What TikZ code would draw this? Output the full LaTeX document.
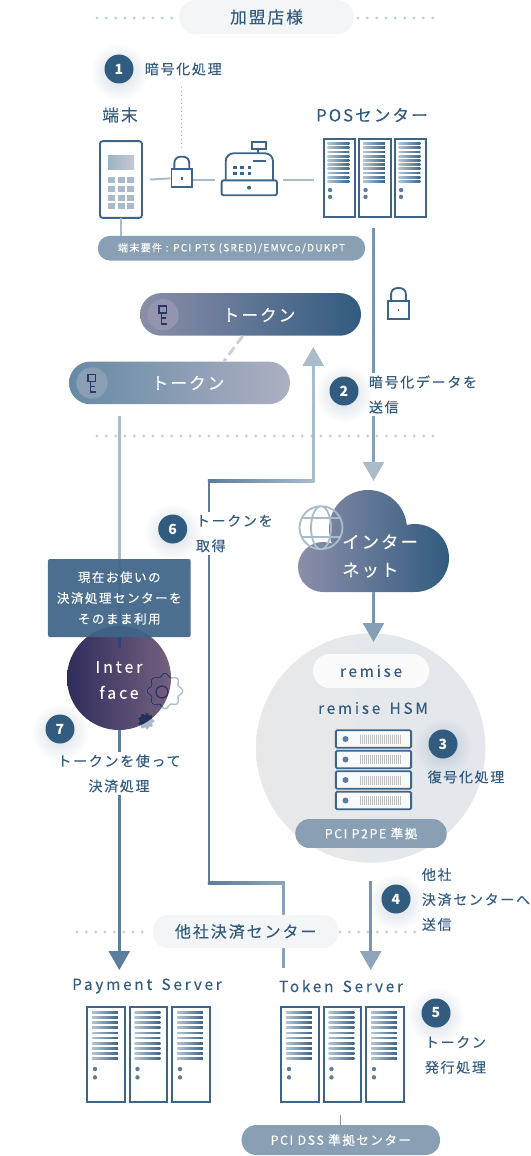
\documentclass[tikz,border=0pt]{standalone}
\usepackage{fontspec}
\usepackage{tikz}
\usetikzlibrary{arrows.meta, positioning, backgrounds, fadings, calc}
\setmainfont{Noto Sans CJK JP}
\newfontfamily\jpwide[LetterSpace=12, FakeBold=0.12]{Noto Sans CJK JP}
\newfontfamily\enwide[LetterSpace=18, FakeBold=0.12, WordSpace=1.5]{Noto Sans CJK JP}
\definecolor{stepblue}{RGB}{50,91,128}
\definecolor{rackblue}{RGB}{62,100,136}
\definecolor{paleline}{RGB}{169,188,203}
\definecolor{midline}{RGB}{120,150,175}
\definecolor{darkline}{RGB}{92,125,155}
\definecolor{tagblue}{RGB}{137,160,180}
\definecolor{dotgray}{RGB}{197,208,218}
\definecolor{pillgray}{RGB}{244,245,246}
\definecolor{tokenmauve}{RGB}{139,142,168}
\definecolor{tokenpale}{RGB}{173,175,194}
\definecolor{tokensteel}{RGB}{103,138,166}
\definecolor{keynavy}{RGB}{42,55,102}
\definecolor{faceleft}{RGB}{46,45,92}
\definecolor{faceright}{RGB}{117,96,127}
\tikzfading[name=softglow, inner color=transparent!78, outer color=transparent!100]
\tikzset{
  areapill/.style={rectangle, rounded corners=12.5pt, fill=pillgray, text=stepblue, inner sep=0pt,
    font=\jpwide\fontsize{12.5}{15}\selectfont},
  tagpill/.style={rectangle, fill=tagblue, text=white, inner sep=0pt},
  tokenpill/.style={rectangle, rounded corners=16pt, minimum width=165.75pt, minimum height=32pt, inner sep=0pt},
  tokentext/.style={text=white, font=\jpwide\fontsize{12.5}{15}\selectfont},
  steplabel/.style={text=stepblue, align=left, inner sep=2pt, font=\jpwide\fontsize{10.5}{18.75}\selectfont},
  titlelabel/.style={text=stepblue, font=\jpwide\fontsize{12.5}{15}\selectfont},
  enlabel/.style={text=stepblue, font=\enwide\fontsize{11.5}{15}\selectfont},
  stepbadge/.style={circle, fill=stepblue, text=white, minimum size=21.75pt, inner sep=0pt,
    font=\bfseries\fontsize{10.5}{12}\selectfont},
  rackbox/.style={rectangle, draw=rackblue, line width=1.5pt, inner sep=0pt, anchor=north west, fill=white},
  iconline/.style={draw=rackblue, line width=1.4pt},
  dotline/.style={draw=dotgray, line width=2.4pt, line cap=round, dash pattern=on 0pt off 7pt},
  linkline/.style={draw=paleline, line width=1.5pt},
  routeline/.style={line width=1.9pt},
}
% one rack: name, x, y, w, h
\newcommand{\rackunit}[5]{
  \node[rackbox, minimum width=#4*0.75pt, minimum height=#5*0.75pt] (#1) at (#2,#3) {};
  \foreach \k in {0,...,9}
    \shade[left color=midline!55!white, right color=rackblue]
      ({#2+0.16*#4},{#3+0.06*#5+0.054*\k*#5}) rectangle ({#2+0.85*#4},{#3+0.06*#5+0.054*\k*#5+1.7});
  \fill[darkline] ({#2+0.24*#4},{#3+0.667*#5}) circle (2.2) ({#2+0.24*#4},{#3+0.755*#5}) circle (2.2);
}
\newcommand{\padlock}[3]{
  \node[rectangle, iconline, minimum width=15.5pt, minimum height=13.5pt, inner sep=0pt] (#1) at (#2,#3) {};
  \draw[iconline, rounded corners=4.5pt] ({#2-7.4},{#3-9.2}) -- ({#2-7.4},{#3-21.7}) -- ({#2+7.4},{#3-21.7}) -- ({#2+7.4},{#3-9.2});
  \draw[iconline] (#2,{#3-1.2}) -- (#2,{#3+1.4});
}
\newcommand{\tokenkey}[2]{
  \draw[keynavy, line width=1.2pt] ({#1-4},{#2-8.5}) rectangle ({#1+3.5},{#2-1.5});
  \draw[keynavy, line width=1.2pt] ({#1-1.5},{#2-1.5}) -- ({#1-1.5},{#2+9}) -- ({#1+4},{#2+9});
  \draw[keynavy, line width=1.2pt] ({#1-1.5},{#2+3.5}) -- ({#1+3},{#2+3.5});
}
\newcommand{\stepglow}[2]{
  \fill[stepblue, path fading=softglow] (#1,{#2+3}) circle (29);
}
\begin{document}
\begin{tikzpicture}[x=0.75pt, y=-0.75pt]
  \useasboundingbox (0,0) rectangle (531,1156);

  % merchant row
  \coordinate (dota) at (97,18);
  \coordinate (dotb) at (175,18);
  \coordinate (dotc) at (358,18);
  \coordinate (dotd) at (438,18);
  \draw[dotline] (dota) -- (dotb);
  \draw[dotline] (dotc) -- (dotd);
  \node[areapill, minimum width=131pt, minimum height=25.5pt] (merchant) at (266.5,17) {加盟店様};

  \stepglow{119}{69}
  \node[stepbadge] (stepone) at (119,69) {1};
  \node[steplabel, anchor=west] (stepone text) at (142,69) {暗号化処理};
  \node[titlelabel] (terminal title) at (120,115) {端末};
  \node[titlelabel] (pos title) at (372,115) {POSセンター};

  % terminal
  \node[rectangle, rounded corners=2pt, iconline, minimum width=31.5pt, minimum height=57.5pt, inner sep=0pt] (terminal) at (121,179.5) {};
  \shade[left color=paleline!90!rackblue, right color=tokenpale!70] (108,155) rectangle (134,169);
  \foreach \r/\ry in {0/177,1/186,2/195,3/203}
    \foreach \c/\cx in {0/108,1/117.5,2/127}
      \fill[paleline!85!tokenpale] (\cx,\ry) rectangle ({\cx+7},{\ry+5.5});

  \padlock{lockone}{181.8}{178.4}
  \coordinate (lockdots) at (181.5,87);
  \draw[draw=paleline, line width=1pt, dotted] (lockdots) -- (181.5,148);

  % cash register
  \node[minimum width=51pt, minimum height=10pt, inner sep=0pt] (register) at (249,179.5) {};
  \node[rectangle, rounded corners=1.5pt, iconline, minimum width=41.5pt, minimum height=11.2pt, inner sep=0pt] (drawer) at (249.3,187.8) {};
  \draw[iconline, rounded corners=6pt] (225.7,180.3) -- (225.7,153.3) -- (273,153.3) -- (273,180.3);
  \draw[iconline] (251.7,142) rectangle (266,148.7);
  \draw[iconline] (258,148.7) -- (258,153.3);
  \draw[iconline] (252.7,160.7) -- (266,160.7);
  \foreach \cx in {235,242,249.7}
    \foreach \ry in {167.3,173.3}
      \fill[rackblue] ({\cx-1.7},{\ry-1.7}) rectangle ({\cx+1.7},{\ry+1.7});
  \fill[rackblue] (249,187.7) circle (2);

  % pos racks
  \rackunit{posa}{322.5}{138}{31.5}{78}
  \rackunit{posb}{358}{138}{31.5}{78}
  \rackunit{posc}{393.5}{138}{31.5}{78}

  \draw[linkline] (terminal.east) ++(7,0) -- (lockone.west);
  \draw[linkline] (lockone.east |- terminal.east) -- (register.west);
  \draw[linkline] (register.east) -- ($(register.east -| posa.west)+(-9,0)$);
  \draw[linkline] (121,218) -- (121,236);

  \node[tagpill, rounded corners=9pt, minimum width=200.5pt, minimum height=18.5pt, text=white,
    font=\jpwide\fontsize{7.6}{10}\selectfont] (terminal spec) at (231.5,248.2) {端末要件 : PCI PTS (SRED)/EMVCo/DUKPT};

  % tokens
  \node[tokenpill, left color=tokenmauve, right color=stepblue] (tokena) at (250.5,314.4) {};
  \fill[tokenmauve!80!tokenpale] (163,314.7) circle (15.7);
  \tokenkey{163}{314.7}
  \node[tokentext] (tokena text) at (259,315) {トークン};

  \node[tokenpill, left color=tokensteel, right color=tokenpale] (tokenb) at (179.5,382.9) {};
  \fill[tagblue] (92,383) circle (15.7);
  \tokenkey{92}{383}
  \node[tokentext] (tokenb text) at (188,383) {トークン};
  \draw[draw=tokenpale!60!white, line width=2.2pt, dash pattern=on 7pt off 3.5pt] (tokena.south -| 242.7,0) -- (tokenb.north -| 224,0);

  \padlock{locktwo}{398.5}{309.8}

  % separators
  \coordinate (dote) at (97,436);
  \coordinate (dotf) at (438,436);
  \draw[dotline] (dote) -- (dotf);
  \coordinate (dotg) at (77,932);
  \coordinate (doth) at (150,932);
  \coordinate (doti) at (340,932);
  \coordinate (dotj) at (418,932);
  \draw[dotline] (dotg) -- (doth);
  \draw[dotline] (doti) -- (dotj);

  % data to internet
  \coordinate (cryptstart) at (373.5,228);
  \coordinate (cryptmid) at (373.5,395);
  \coordinate (clouddrop) at (373.5,481);
  \draw[routeline, draw=midline] (cryptstart) -- (cryptmid);
  \draw[routeline, draw=midline!70!paleline, -{Triangle[length=14.25pt, width=15.75pt, color=paleline]}] (cryptmid) -- (clouddrop);

  % token route, up from the server
  \coordinate (routea) at (283.7,968);
  \coordinate (routeb) at (283.7,883);
  \coordinate (routec) at (209,883);
  \coordinate (routed) at (209,481);
  \coordinate (routee) at (313.3,481);
  \coordinate (routef) at (313.3,347);
  \draw[routeline, draw=midline!70!paleline] (routea) -- (routeb);
  \shade[left color=darkline, right color=midline!60!paleline] ($(routec)+(-1.2,-1.2)$) rectangle ($(routeb)+(1.2,1.2)$);
  \draw[routeline, draw=darkline, line cap=rect] (routec) -- (routed);
  \shade[left color=darkline, right color=paleline] ($(routed)+(-1.2,-1.2)$) rectangle ($(routee)+(1.2,1.2)$);
  \draw[routeline, draw=paleline, -{Triangle[length=14.25pt, width=15.75pt, color=paleline]}] (routee) -- (routef);

  % line through the interface
  \coordinate (payfrom) at (119.3,416);
  \coordinate (paymid) at (119.3,640);
  \coordinate (paydrop) at (119.3,970);
  \draw[routeline, draw=paleline] (payfrom) -- (paymid);
  \draw[routeline, draw=darkline, -{Triangle[length=14.25pt, width=15.75pt, color=darkline]}] (paymid) -- (paydrop);

  \node[steplabel, fill=white, anchor=west] (steptwo text) at (366,394.5) {暗号化データを\\送信};
  \stepglow{344}{391}
  \node[stepbadge] (steptwo) at (344,391) {2};

  \node[steplabel, fill=white, anchor=west] (stepsix text) at (193,533.5) {トークンを\\取得};
  \stepglow{172.7}{529}
  \node[stepbadge] (stepsix) at (172.7,529) {6};

  % cloud
  \shade[left color=tokenmauve, right color=stepblue]
    (368,529) circle (39) (415,558) circle (34) (323,567) circle (25) (323,592) rectangle (415,550);
  \draw[draw=paleline, line width=1.4pt] (321,527.7) circle (21.5) (321,527.7) ellipse (10 and 21.5)
    (302,518) -- (340,518) (302,537) -- (340,537);
  \node[anchor=west, align=left, text=white, inner sep=0pt, font=\jpwide\fontsize{13}{21}\selectfont] (internet) at (342,556) {インター\\ネット};

  % hsm
  \shade[left color=gray!18, right color=stepblue!14] (370.7,748) circle (114.7);
  \coordinate (cloudfoot) at (373.5,592);
  \coordinate (hsmtop) at (373.5,642);
  \draw[routeline, draw=midline, -{Triangle[length=14.25pt, width=15.75pt, color=midline!75!paleline]}] (cloudfoot) -- (hsmtop);
  \node[areapill, fill=white!60!pillgray, minimum width=87pt, minimum height=25.5pt, font=\enwide\fontsize{11.5}{15}\selectfont] (remise) at (371,671) {remise};
  \node[enlabel] (hsm title) at (373,708) {remise HSM};
  \foreach \r/\ry in {0/739,1/759.5,2/780,3/800.5} {
    \node[rectangle, rounded corners=1pt, iconline, fill=white!40!pillgray, minimum width=56.5pt, minimum height=13.2pt, inner sep=0pt] (hsmrow\r) at (373.5,\ry) {};
    \fill[darkline] (345.5,\ry) circle (3);
    \foreach \b in {360,362,...,400}
      \draw[draw=gray!50, line width=0.55pt] (\b,{\ry-4.5}) -- (\b,{\ry+4.5});
  }
  \stepglow{443}{744}
  \node[stepbadge] (stepthree) at (443,744) {3};
  \node[steplabel, anchor=center] (stepthree text) at (466,777) {復号化処理};
  \node[tagpill, rounded corners=10.5pt, minimum width=113.5pt, minimum height=21.7pt, font=\jpwide\fontsize{9.4}{12}\selectfont] (p2pe) at (371,833.5) {PCI P2PE 準拠};

  % interface
  \shade[left color=faceleft, middle color=stepblue, right color=faceright] (119,678) circle (52);
  \draw[routeline, draw=keynavy!60!stepblue] (119.3,637) -- (119.3,648);
  \begin{scope}
    \draw[draw=paleline, line width=1pt] plot[smooth cycle, samples=72, domain=0:355] ({165+(16+1.7*cos(8*\x))*cos(\x)},{691+(16+1.7*cos(8*\x))*sin(\x)});
    \fill[paleline] plot[smooth cycle, samples=60, domain=0:354] ({146+(7.5+1*cos(9*\x))*cos(\x)},{721+(7.5+1*cos(9*\x))*sin(\x)});
    \clip (119,678) circle (52);
    \draw[draw=keynavy, line width=1pt] plot[smooth cycle, samples=72, domain=0:355] ({165+(16+1.7*cos(8*\x))*cos(\x)},{691+(16+1.7*cos(8*\x))*sin(\x)});
    \draw[draw=keynavy, line width=1pt] (162,692) circle (6);
    \fill[keynavy!90!black] plot[smooth cycle, samples=60, domain=0:354] ({146+(7.5+1*cos(9*\x))*cos(\x)},{721+(7.5+1*cos(9*\x))*sin(\x)});
  \end{scope}
  \node[rectangle, rounded corners=1.5pt, fill=rackblue, fill opacity=0.93, text opacity=1, text=white, align=center, minimum width=107pt, minimum height=58.5pt, inner sep=0pt,
    font=\jpwide\fontsize{9.4}{15.6}\selectfont] (current) at (119.3,598) {現在お使いの\\決済処理センターを\\そのまま利用};
  \node[align=center, text=white, inner sep=0pt, font=\enwide\fontsize{12}{19.5}\selectfont] (interface) at (119,680) {Inter\\face};

  \node[steplabel, fill=white, align=center] (stepseven text) at (119,773.5) {トークンを使って\\決済処理};
  \stepglow{60}{729}
  \node[stepbadge] (stepseven) at (60,729) {7};

  % other centres
  \coordinate (sendfrom) at (370.7,881);
  \coordinate (senddrop) at (370.7,970);
  \draw[routeline, draw=midline, -{Triangle[length=14.25pt, width=15.75pt, color=midline!60!paleline]}] (sendfrom) -- (senddrop);
  \stepglow{396}{899}
  \node[stepbadge] (stepfour) at (396,899) {4};
  \node[steplabel, anchor=west] (stepfour text) at (419,899.5) {他社\\決済センターへ\\送信};
  \node[areapill, rounded corners=12pt, minimum width=139.5pt, minimum height=25pt, font=\jpwide\fontsize{12}{15}\selectfont] (others) at (245.7,931.5) {他社決済センター};

  \node[enlabel] (payment title) at (147,986) {Payment Server};
  \node[enlabel] (token title) at (341,986) {Token Server};
  \rackunit{paya}{86}{1006}{37.5}{94.5}
  \rackunit{payb}{128.5}{1006}{37.5}{94.5}
  \rackunit{payc}{171}{1006}{37.5}{94.5}
  \rackunit{toka}{280}{1006}{37.5}{94.5}
  \rackunit{tokb}{322.5}{1006}{37.5}{94.5}
  \rackunit{tokc}{365}{1006}{37.5}{94.5}

  \stepglow{436}{1013}
  \node[stepbadge] (stepfive) at (436,1013) {5};
  \node[steplabel, anchor=west] (stepfive text) at (422,1055) {トークン\\発行処理};

  \node[tagpill, rounded corners=11pt, minimum width=148.8pt, minimum height=22.5pt, font=\jpwide\fontsize{9.4}{12}\selectfont] (dss) at (340.8,1140) {PCI DSS 準拠センター};
  \draw[draw=midline, line width=0.8pt] (dss.north) -- ++(0,-10);
\end{tikzpicture}
\end{document}
